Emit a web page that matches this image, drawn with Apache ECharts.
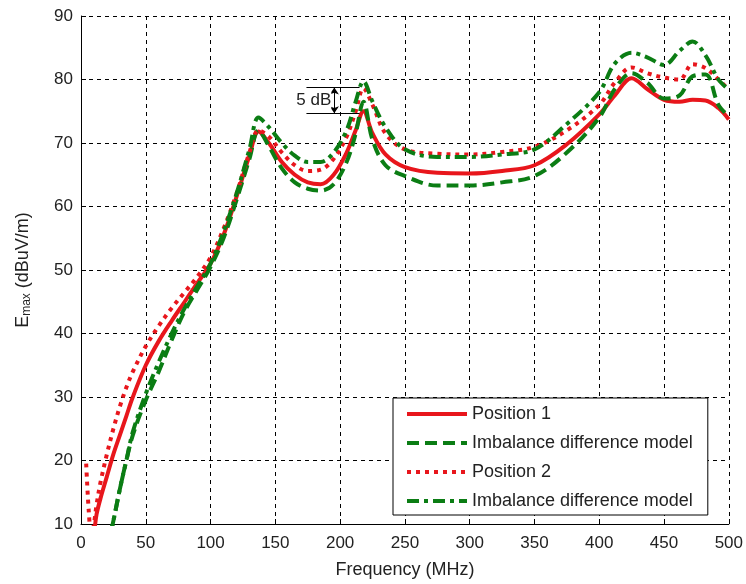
<!DOCTYPE html>
<html>
<head>
<meta charset="utf-8">
<script src="https://cdn.jsdelivr.net/npm/echarts@6/dist/echarts.min.js"></script>
<style>
  html, body { margin: 0; padding: 0; background: #fff; }
  #chart { width: 746px; height: 584px; }
</style>
</head>
<body>
<div id="chart"></div>
<script>
// Frequency sample points (MHz), shared by all four curves
const freq = [4, 6, 8, 10, 12, 15, 20, 25, 30, 35, 40, 50, 60, 70, 80, 90, 100, 110, 120, 130, 137,
  145, 155, 165, 175, 185, 195, 205, 212, 218, 225, 235, 250, 275, 300, 325, 350, 375, 400, 412,
  425, 437, 450, 462, 472, 482, 492, 500];

// Maximum field strength E_max (dBuV/m)
const position1 = [0, 3, 6.5, 8.5, 11.5, 14, 17.5, 21, 24, 27, 30, 35, 38.8, 42, 45, 48, 51, 55.5, 61.5, 68, 71.8,
  70, 67, 65, 63.8, 63.5, 65, 68.5, 72, 75, 71.5, 68.2, 66.2, 65.3, 65.2, 65.6, 66.5, 69.8, 74.5, 77.5,
  80.2, 78.5, 76.8, 76.5, 76.8, 76.7, 75.5, 73.7];
const imbalance1 = [-13, -10, -7, -4, -1, 2, 6, 10.5, 15.5, 20, 24, 29.5, 34, 39, 43.5, 47, 50.5, 55, 61, 67.5, 72,
  69.5, 66, 63.8, 62.8, 62.5, 63.5, 67, 71.5, 76.5, 70.5, 66.5, 64.8, 63.3, 63.3, 63.8, 64.8, 68.5, 74, 78.5,
  81, 79.5, 77, 77.5, 80.5, 80.8, 76, 74.2];
const position2 = [19.5, 12, 8, 10, 13, 16.5, 21, 25, 28.5, 31.5, 34, 38, 41.2, 44, 46.5, 49, 52, 56.5, 62, 68.5, 72,
  71, 68.5, 66.5, 65.6, 65.8, 67.5, 71, 75, 78.6, 76, 71.5, 69, 68.3, 68.2, 68.6, 69.4, 72, 76, 79.5,
  81.9, 81, 80.3, 80, 82.4, 81.8, 80, 78.4];
const imbalance2 = [-12, -9, -6, -3, -1, 2, 6, 10.5, 15.5, 20, 24.5, 30.5, 35.5, 40, 44, 47.5, 51, 56, 62, 69, 74,
  72.5, 70, 68, 67, 67, 68.5, 72, 76.5, 79.7, 76.5, 72.5, 69, 67.8, 67.8, 68.2, 69, 73, 78, 82.5,
  84.2, 83.5, 82.3, 84.5, 86, 83.8, 80, 78.4];

const seriesNames = ['Position 1', 'Imbalance difference model', 'Position 2', 'Imbalance difference model '];
const xTicks = [0, 500, 50];   // min, max, step
const yTicks = [10, 90, 10];

// Peak-difference annotation around the second resonance
const noteLevels = [78.75, 74.7];
const noteSpan = [174, 215];
const noteArrowAt = 195.5;
const noteText = '5 dB';

const RED = '#e8161c';
const GREEN = '#0b7d14';
const FONT = 'Liberation Sans, Arial, sans-serif';

function pairs(vals) { return freq.map((f, i) => [f, vals[i]]); }

const chart = echarts.init(document.getElementById('chart'), null, { renderer: 'canvas' });

const baseSeries = (name, vals, color, dash) => ({
  name: name,
  type: 'line',
  data: pairs(vals),
  symbol: 'none',
  smooth: 0.35,
  clip: true,
  lineStyle: { color: color, width: 4, type: dash, cap: 'butt' },
  itemStyle: { color: color },
  z: 3
});

const s1 = baseSeries(seriesNames[0], position1, RED, 'solid');
const s2 = baseSeries(seriesNames[1], imbalance1, GREEN, [12, 6]);
const s3 = baseSeries(seriesNames[2], position2, RED, [4, 5]);
const s4 = baseSeries(seriesNames[3], imbalance2, GREEN, [12, 5, 4, 5]);

// annotation lines drawn in data space
s1.markLine = {
  silent: true,
  symbol: 'none',
  animation: false,
  label: { show: false },
  lineStyle: { color: '#000', width: 1, type: 'solid' },
  data: [
    [{ coord: [noteSpan[0], noteLevels[0]], symbol: 'none' }, { coord: [noteSpan[1], noteLevels[0]], symbol: 'none' }],
    [{ coord: [noteSpan[0], noteLevels[1]], symbol: 'none' }, { coord: [noteSpan[1], noteLevels[1]], symbol: 'none' }],
    [{ coord: [noteArrowAt, noteLevels[0]], symbol: 'arrow', symbolSize: [7, 7] },
     { coord: [noteArrowAt, noteLevels[1]], symbol: 'arrow', symbolSize: [7, 7] }]
  ]
};

const option = {
  animation: false,
  backgroundColor: '#fff',
  grid: { left: 81, right: 16, top: 16, bottom: 56, containLabel: false },
  xAxis: {
    type: 'value',
    min: xTicks[0], max: xTicks[1], interval: xTicks[2],
    name: 'Frequency (MHz)',
    nameLocation: 'middle',
    nameGap: 37,
    nameTextStyle: { fontFamily: FONT, fontSize: 18, color: '#222' },
    axisLine: { show: true, onZero: false, lineStyle: { color: '#000', width: 1 } },
    axisTick: { show: true, inside: true, length: 5, lineStyle: { color: '#000' } },
    axisLabel: { fontFamily: FONT, fontSize: 17, color: '#222', margin: 11 },
    splitLine: { show: true, lineStyle: { color: '#000', width: 1, type: [4, 4] } }
  },
  yAxis: {
    type: 'value',
    min: yTicks[0], max: yTicks[1], interval: yTicks[2],
    name: 'E{sub|max} (dBuV/m)',
    nameLocation: 'middle',
    nameGap: 48,
    nameRotate: 90,
    nameTextStyle: {
      fontFamily: FONT, fontSize: 18, color: '#222',
      rich: { sub: { fontFamily: FONT, fontSize: 12, color: '#222', verticalAlign: 'bottom', padding: [8, 0, 0, 0] } }
    },
    axisLine: { show: true, onZero: false, lineStyle: { color: '#000', width: 1 } },
    axisTick: { show: true, inside: true, length: 5, lineStyle: { color: '#000' } },
    axisLabel: { fontFamily: FONT, fontSize: 17, color: '#222', margin: 8 },
    splitLine: { show: true, lineStyle: { color: '#000', width: 1, type: [4, 4] } }
  },
  legend: {
    orient: 'vertical',
    left: 393,
    top: 398,
    backgroundColor: '#fff',
    borderColor: '#000',
    borderWidth: 1,
    borderRadius: 0,
    padding: [7, 10, 5, 12],
    itemWidth: 60,
    itemHeight: 14,
    itemGap: 11,
    itemStyle: { opacity: 0, borderWidth: 0 },
    lineStyle: { width: 4 },
    textStyle: { fontFamily: FONT, fontSize: 18, color: '#222' },
    data: seriesNames
  },
  series: [s1, s2, s3, s4]
};

chart.setOption(option);

// place the annotation label next to its arrow
const anchor = chart.convertToPixel({ gridIndex: 0 }, [noteArrowAt, (noteLevels[0] + noteLevels[1]) / 2]);
chart.setOption({
  graphic: [{
    type: 'text',
    x: anchor[0] - 3,
    y: anchor[1],
    z: 10,
    style: {
      text: noteText,
      fontFamily: FONT,
      fontSize: 17,
      fill: '#222',
      align: 'right',
      verticalAlign: 'middle',
      backgroundColor: '#fff'
    }
  }]
});
</script>
</body>
</html>
